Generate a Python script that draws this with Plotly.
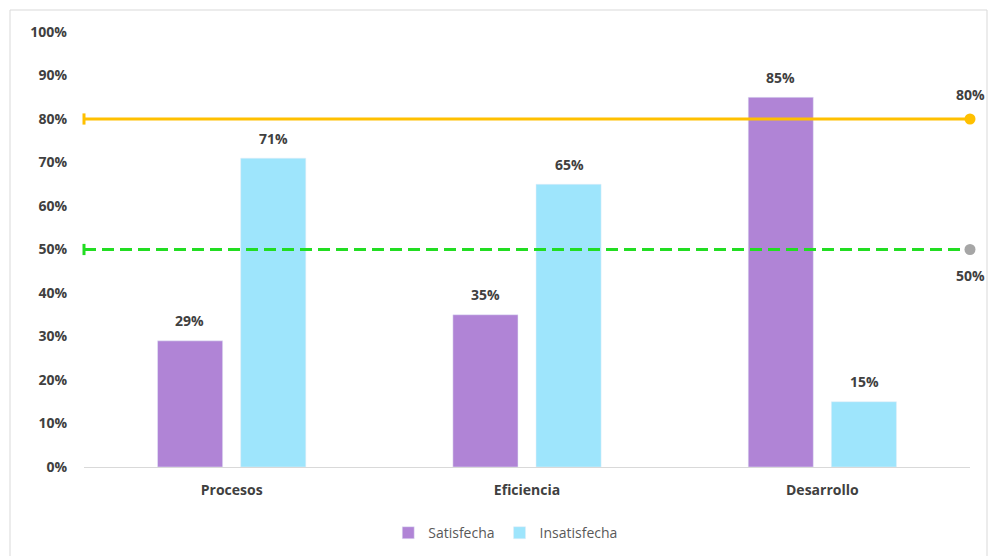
import plotly.graph_objects as go

categories = ["Procesos", "Eficiencia", "Desarrollo"]
satisfecha = [0.29, 0.35, 0.85]
insatisfecha = [0.71, 0.65, 0.15]
target_high = 0.80
target_low = 0.50
y_ticks = [i / 10 for i in range(11)]
y_tick_labels = [f"{i*10}%" for i in range(11)]

FONT = "Open Sans, Liberation Sans, sans-serif"
TXT = "#404040"
LABEL_FONT = dict(family=FONT, size=14, color=TXT, weight="bold")

fig = go.Figure()
fig.add_trace(go.Bar(name="Satisfecha", x=categories, y=satisfecha, marker_color="#B084D6"))
fig.add_trace(go.Bar(name="Insatisfecha", x=categories, y=insatisfecha, marker_color="#9EE5FC"))
# target lines
fig.add_trace(go.Scatter(
    x=[0, 1], y=[target_high, target_high], xaxis="x2", mode="lines",
    line=dict(color="#FFC000", width=3), showlegend=False, cliponaxis=False, hoverinfo="skip",
))
fig.add_trace(go.Scatter(
    x=[0, 1], y=[target_low, target_low], xaxis="x2", mode="lines",
    line=dict(color="#22DD22", width=3, dash="12px,6px"), showlegend=False, cliponaxis=False, hoverinfo="skip",
))
# end markers
fig.add_trace(go.Scatter(
    x=[0, 0], y=[target_high, target_low], xaxis="x2", mode="markers",
    marker=dict(symbol="line-ns", size=8, line=dict(color=["#FFC000", "#22DD22"], width=3)),
    showlegend=False, cliponaxis=False, hoverinfo="skip",
))
fig.add_trace(go.Scatter(
    x=[1, 1], y=[target_high, target_low], xaxis="x2", mode="markers",
    marker=dict(symbol="circle", size=11, color=["#FFC000", "#A6A6A6"], line=dict(width=0)),
    showlegend=False, cliponaxis=False, hoverinfo="skip",
))

annotations = []
for series, shift in ((satisfecha, -42), (insatisfecha, 42)):
    for cat, v in zip(categories, series):
        annotations.append(dict(x=cat, y=v, xref="x", yref="y", text=f"{round(v*100)}%",
                                showarrow=False, xshift=shift, yshift=20, font=LABEL_FONT))
annotations += [
    dict(x=1, y=target_high, xref="x2", yref="y", text=f"{round(target_high*100)}%",
         showarrow=False, yshift=25, font=LABEL_FONT),
    dict(x=1, y=target_low, xref="x2", yref="y", text=f"{round(target_low*100)}%",
         showarrow=False, yshift=-26, font=LABEL_FONT),
]

fig.update_layout(
    width=990, height=556,
    margin=dict(l=84, r=20, t=32, b=89, autoexpand=False),
    paper_bgcolor="white", plot_bgcolor="white",
    barmode="group", bargap=0.437, bargroupgap=0.217,
    font=dict(family=FONT, color=TXT),
    xaxis=dict(showline=True, linecolor="#D9D9D9", linewidth=1, ticks="",
               ticklabelstandoff=10, automargin=False,
               tickfont=dict(family=FONT, size=14, color=TXT, weight="bold"),
               showgrid=False, fixedrange=True),
    xaxis2=dict(overlaying="x", range=[0, 1], visible=False, fixedrange=True),
    yaxis=dict(range=[0, 1], tickvals=y_ticks, ticktext=y_tick_labels,
               showgrid=False, zeroline=False, showline=False, ticks="",
               ticklabelstandoff=16, automargin=False,
               tickfont=dict(family=FONT, size=14, color=TXT, weight="bold"),
               fixedrange=True),
    legend=dict(orientation="h", x=0.476, xanchor="center", y=-0.152, yanchor="middle",
                font=dict(family=FONT, size=14, color="#595959"),
                itemwidth=30, traceorder="normal"),
    annotations=annotations,
    shapes=[dict(type="rect", xref="paper", yref="paper",
                 x0=(10 - 84) / 886, x1=(987 - 84) / 886,
                 y0=-0.3, y1=(467 - 10) / 435,
                 line=dict(color="#D9D9D9", width=1), fillcolor="rgba(0,0,0,0)",
                 layer="below")],
)

fig.write_html("out.html")
